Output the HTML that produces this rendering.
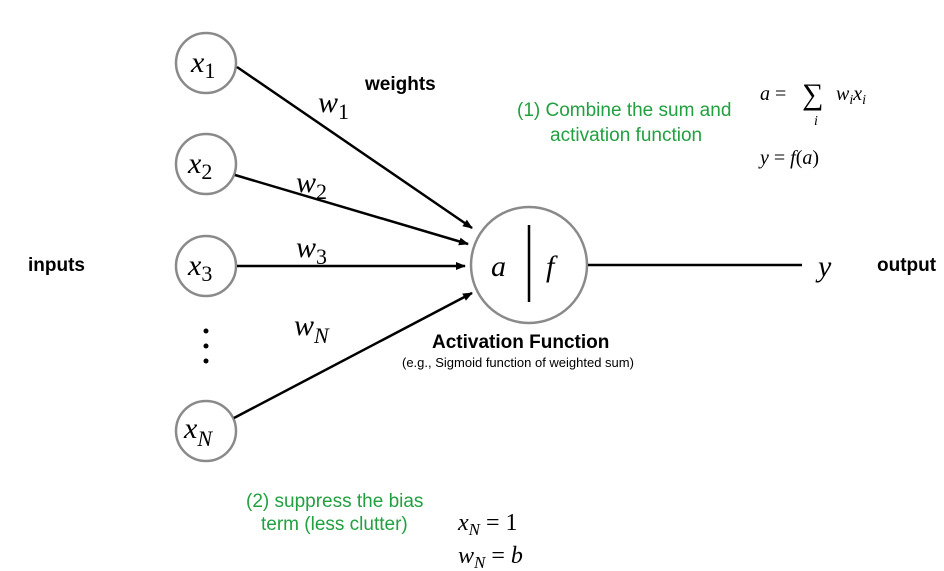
<!DOCTYPE html>
<html><head><meta charset="utf-8"><style>
body{margin:0;background:#fff}
svg{display:block}
.m{font-family:"Liberation Serif",serif;font-style:italic}
.s{font-family:"Liberation Sans",sans-serif}
</style></head><body>
<svg width="944" height="571" viewBox="0 0 944 571" xmlns="http://www.w3.org/2000/svg">
<defs><marker id="ah" markerWidth="10" markerHeight="8" refX="9" refY="4" orient="auto" markerUnits="userSpaceOnUse"><path d="M0,0 L10,4 L0,8 Z" fill="#000"/></marker></defs>
<g fill="#fff" stroke="#8a8a8a" stroke-width="2.5">
<circle cx="206" cy="63" r="30"/><circle cx="206" cy="164" r="30"/><circle cx="206" cy="266" r="30"/><circle cx="206" cy="431" r="30"/>
<circle cx="529" cy="265" r="58"/>
</g>
<g stroke="#000" stroke-width="2.5" fill="none">
<line x1="237" y1="67" x2="472" y2="228" marker-end="url(#ah)"/>
<line x1="235" y1="175" x2="468" y2="244" marker-end="url(#ah)"/>
<line x1="237" y1="266" x2="465" y2="266" marker-end="url(#ah)"/>
<line x1="234" y1="418" x2="472" y2="293" marker-end="url(#ah)"/>
<line x1="588" y1="265" x2="802" y2="265"/>
<line x1="529" y1="225" x2="529" y2="302"/>
</g>
<g class="m" font-size="30">
<text x="191" y="72">x<tspan font-size="22" font-style="normal" dy="6">1</tspan></text>
<text x="188" y="173">x<tspan font-size="22" font-style="normal" dy="6">2</tspan></text>
<text x="188" y="275">x<tspan font-size="22" font-style="normal" dy="6">3</tspan></text>
<text x="184" y="438">x<tspan font-size="22" dy="8">N</tspan></text>
<text x="318" y="112">w<tspan font-size="22" font-style="normal" dy="7">1</tspan></text>
<text x="296" y="192">w<tspan font-size="22" font-style="normal" dy="7">2</tspan></text>
<text x="296" y="257">w<tspan font-size="22" font-style="normal" dy="7">3</tspan></text>
<text x="294" y="335">w<tspan font-size="22" dy="8">N</tspan></text>
<text x="491" y="276">a</text>
<text x="546" y="276">f</text>
<text x="818" y="276">y</text>
</g>
<g class="s" font-weight="bold" font-size="19" fill="#000">
<text x="365" y="90">weights</text>
<text x="28" y="271">inputs</text>
<text x="877" y="271">output</text>
<text x="432" y="348">Activation Function</text>
</g>
<text class="s" x="402" y="367" font-size="13">(e.g., Sigmoid function of weighted sum)</text>
<g fill="#000"><circle cx="206" cy="331" r="2.5"/><circle cx="206" cy="346" r="2.5"/><circle cx="206" cy="361" r="2.5"/></g>
<g class="s" font-size="19" fill="#22a040">
<text x="517" y="116">(1) Combine the sum and</text>
<text x="550" y="141">activation function</text>
<text x="246" y="507">(2) suppress the bias</text>
<text x="261" y="530">term (less clutter)</text>
</g>
<g class="m" font-size="20" fill="#000">
<text x="760" y="100">a <tspan font-style="normal">=</tspan></text>
<text x="802" y="104" font-size="30" font-style="normal">∑</text>
<text x="836" y="100">w<tspan font-size="14" dy="4">i</tspan><tspan dy="-4">x</tspan><tspan font-size="14" dy="4">i</tspan></text>
<text x="814" y="125" font-size="14">i</text>
<text x="760" y="164">y <tspan font-style="normal">=</tspan> f<tspan font-style="normal">(</tspan>a<tspan font-style="normal">)</tspan></text>
<text x="458" y="530" font-size="24">x<tspan font-size="17" dy="5">N</tspan><tspan font-style="normal" dy="-5"> = 1</tspan></text>
<text x="458" y="563" font-size="24">w<tspan font-size="17" dy="5">N</tspan><tspan font-style="normal" dy="-5"> = </tspan>b</text>
</g>
</svg>
</body></html>
